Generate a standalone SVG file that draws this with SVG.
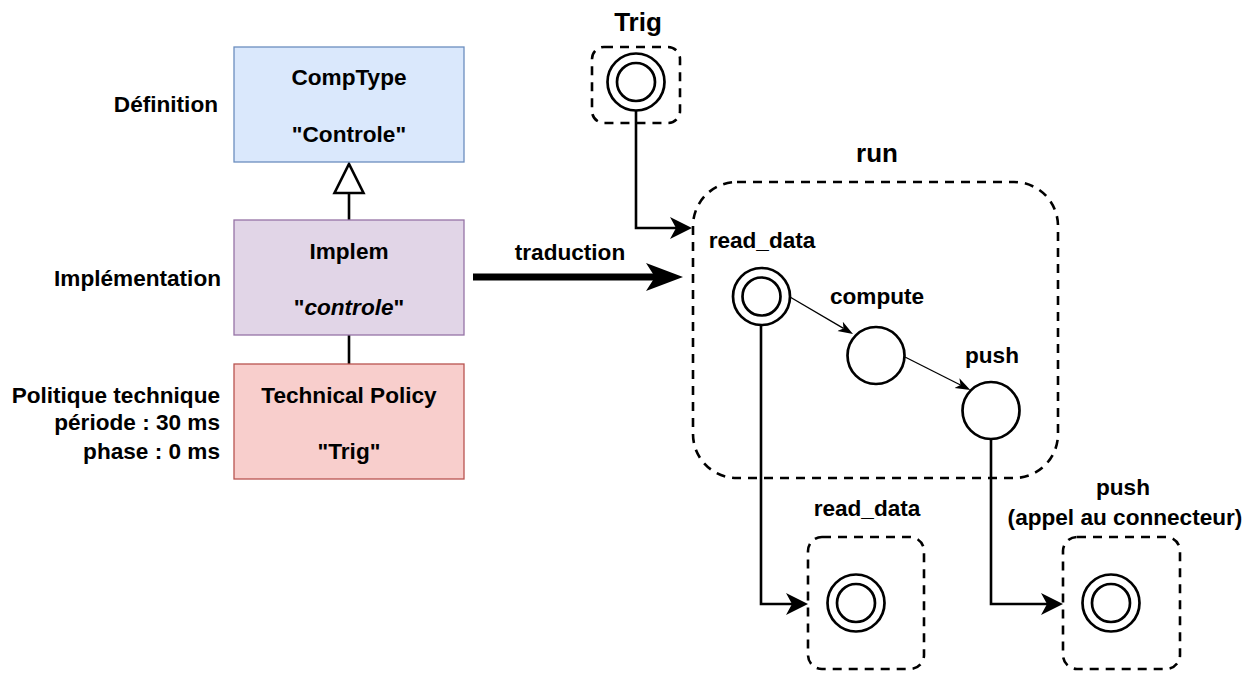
<svg xmlns="http://www.w3.org/2000/svg" width="1260" height="673" viewBox="0 0 1260 673">
<style>
text{font-family:"Liberation Sans",Arial,sans-serif;font-weight:bold;font-size:22.6px;fill:#000}
.big{font-size:26px}
.c{text-anchor:middle}
.r{text-anchor:end}
.box{stroke-width:1.3}
.dash{fill:none;stroke:#000;stroke-width:2.6;stroke-dasharray:9 7}
.circ{fill:#fff;stroke:#000;stroke-width:2.7}
.edge{fill:none;stroke:#000;stroke-width:2.6}
.thin{fill:none;stroke:#000;stroke-width:1.3}
</style>
<defs>
<marker id="ah" viewBox="0 -12 23 24" refX="6" refY="0" markerWidth="23" markerHeight="24" markerUnits="userSpaceOnUse" orient="auto"><path d="M0,-11 L22,0 L0,11 L6,0 Z" fill="#000"/></marker>
<marker id="ahThin" viewBox="0 -6 16 12" refX="4" refY="0" markerWidth="16" markerHeight="12" markerUnits="userSpaceOnUse" orient="auto"><path d="M0,-5.5 L15,0 L0,5.5 L4,0 Z" fill="#000"/></marker>
<marker id="ahBig" viewBox="0 -15 38 30" refX="9" refY="0" markerWidth="38" markerHeight="30" markerUnits="userSpaceOnUse" orient="auto"><path d="M0,-14 L37,0 L0,14 L9,0 Z" fill="#000"/></marker>
</defs>

<g id="labels-left">
<text class="r" x="218" y="112">Définition</text>
<text class="r" x="221" y="286">Implémentation</text>
<text class="r" x="220" y="402.5">Politique technique</text>
<text class="r" x="220" y="430">période : 30 ms</text>
<text class="r" x="220" y="458.5">phase : 0 ms</text>
</g>

<g id="connectors">
<path class="edge" d="M349,220 V192"/>
<path d="M349,193 L334.5,193 L349,164 L363.5,193 Z" fill="#fff" stroke="#000" stroke-width="2.6"/>
<path class="edge" d="M349,335 V364"/>
<path d="M473,277 H655" fill="none" stroke="#000" stroke-width="7" marker-end="url(#ahBig)"/>
<path class="edge" d="M636,111 V228 H676" marker-end="url(#ah)"/>
<path class="thin" d="M790,297 L843.5,328.4" marker-end="url(#ahThin)"/>
<path class="thin" d="M905,357 L960.5,385" marker-end="url(#ahThin)"/>
<path class="edge" d="M761,325 V604 H792" marker-end="url(#ah)"/>
<path class="edge" d="M991,439 V604 H1047" marker-end="url(#ah)"/>
<text class="c" x="570" y="260">traduction</text>
</g>

<g id="comptype">
<rect class="box" x="234" y="47" width="230" height="115" fill="#dae8fc" stroke="#6c8ebf"/>
<text class="c" x="349" y="85">CompType</text>
<text class="c" x="349" y="141.5">"Controle"</text>
</g>

<g id="implem">
<rect class="box" x="234" y="220" width="230" height="115" fill="#e1d5e7" stroke="#9673a6"/>
<text class="c" x="349" y="258.5">Implem</text>
<text class="c" x="349" y="315">"<tspan font-style="italic">controle</tspan>"</text>
</g>

<g id="policy">
<rect class="box" x="234" y="364" width="230" height="115" fill="#f8cecc" stroke="#b85450"/>
<text class="c" x="349" y="403">Technical Policy</text>
<text class="c" x="349" y="458.5">"Trig"</text>
</g>

<g id="trig">
<text class="c big" x="638" y="31">Trig</text>
<rect class="dash" x="592" y="47" width="88" height="76" rx="12"/>
<circle class="circ" cx="636" cy="82" r="28.5"/>
<circle class="circ" cx="636" cy="82" r="19"/>
</g>

<g id="run">
<text class="c big" x="877" y="162">run</text>
<rect class="dash" x="693" y="182" width="365" height="296" rx="44"/>
</g>

<g id="read_data">
<text class="c" x="762" y="247.5">read_data</text>
<circle class="circ" cx="761.5" cy="296.5" r="28.5"/>
<circle class="circ" cx="761.5" cy="296.5" r="19"/>
</g>

<g id="compute">
<text class="c" x="877" y="303.5">compute</text>
<circle class="circ" cx="876" cy="355.5" r="28.5"/>
</g>

<g id="push">
<text class="c" x="992" y="363">push</text>
<circle class="circ" cx="991" cy="410.5" r="28.5"/>
</g>

<g id="read_data_ext">
<text class="c" x="867" y="516">read_data</text>
<rect class="dash" x="808" y="537" width="116" height="132" rx="14"/>
<circle class="circ" cx="856" cy="603" r="28.5"/>
<circle class="circ" cx="856" cy="603" r="19"/>
</g>

<g id="push_ext">
<text class="c" x="1123" y="495">push</text>
<text class="c" x="1125" y="525">(appel au connecteur)</text>
<rect class="dash" x="1063" y="537" width="117" height="132" rx="14"/>
<circle class="circ" cx="1111" cy="603" r="28.5"/>
<circle class="circ" cx="1111" cy="603" r="19"/>
</g>
</svg>
